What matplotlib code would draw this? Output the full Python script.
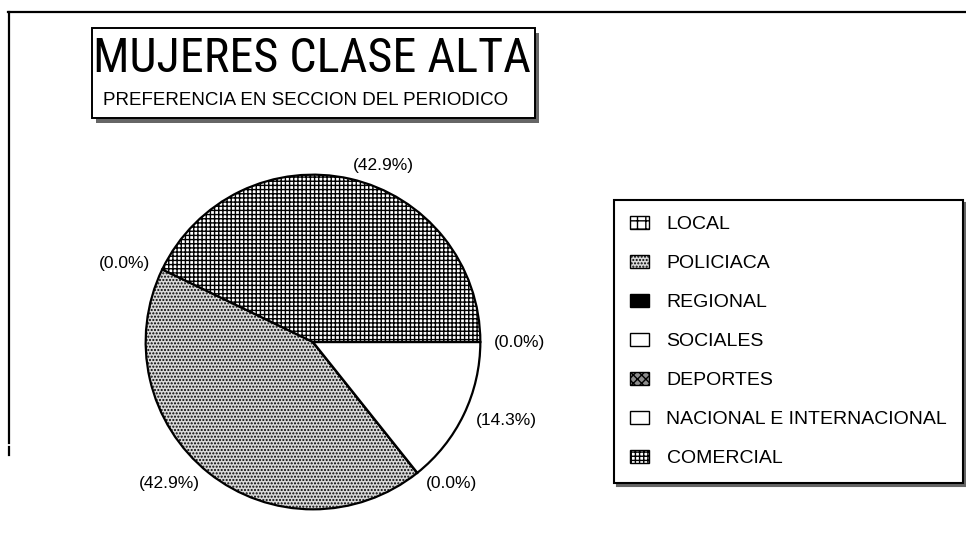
import math
import matplotlib
matplotlib.use('Agg')
import matplotlib.pyplot as plt
from matplotlib import font_manager
from matplotlib.patches import Patch, Rectangle
from matplotlib.lines import Line2D

plt.rcParams['font.family'] = ['Liberation Sans', 'DejaVu Sans']
plt.rcParams['hatch.linewidth'] = 1.0

secciones = ['LOCAL', 'POLICIACA', 'REGIONAL', 'SOCIALES', 'DEPORTES',
             'NACIONAL E INTERNACIONAL', 'COMERCIAL']
porcentajes = [0.0, 42.9, 0.0, 0.0, 0.0, 14.3, 42.9]

titulo = 'MUJERES CLASE ALTA'
subtitulo = 'PREFERENCIA EN SECCION DEL PERIODICO'

# relleno de cada seccion: (color, trama)
rellenos = [('white', '++'), ('#d9d9d9', '.....'), ('black', ''),
            ('white', ''), ('#8c8c8c', 'xxxx'), ('white', ''),
            ('white', '++++')]

W, H = 966, 552
fig = plt.figure(figsize=(W / 100, H / 100), dpi=100)


def fx(x):
    return x / W


def fy(y):
    return 1 - y / H


# una fuente estrecha para el titulo, si hay alguna
fuente_titulo = 'Liberation Sans'
for f in ['Liberation Sans Narrow', 'Roboto Condensed', 'Open Sans Condensed',
          'DejaVu Sans Condensed']:
    try:
        font_manager.findfont(f, fallback_to_default=False)
        fuente_titulo = f
        break
    except ValueError:
        pass

# marco de la pagina (arriba e izquierda)
fig.add_artist(Line2D([fx(8), fx(966)], [fy(12), fy(12)], color='black', lw=1.6,
                      transform=fig.transFigure))
fig.add_artist(Line2D([fx(9), fx(9)], [fy(12), fy(443)], color='black', lw=1.6,
                      transform=fig.transFigure))
fig.add_artist(Line2D([fx(9), fx(9)], [fy(447), fy(455)], color='black', lw=1.6,
                      transform=fig.transFigure))

# caja del titulo con sombra
fig.add_artist(Rectangle((fx(96), fy(123)), (535 - 92) / W, (118 - 28) / H,
                         transform=fig.transFigure, facecolor='#666666',
                         edgecolor='none'))
fig.add_artist(Rectangle((fx(92), fy(118)), (535 - 92) / W, (118 - 28) / H,
                         transform=fig.transFigure, facecolor='white',
                         edgecolor='black', lw=1.4))
t = fig.text(fx(312), fy(72), titulo, fontsize=35, ha='center', va='baseline',
             family=[fuente_titulo, 'Liberation Sans'])
r = fig.canvas.get_renderer()
ancho = t.get_window_extent(r).width
if ancho > 437:
    t.set_fontsize(35 * 437 / ancho)
fig.text(fx(306), fy(105), subtitulo, fontsize=13.5, ha='center', va='baseline')

# pastel
ax = fig.add_axes([fx(144), fy(511), 338 / W, 338 / H])
inicio = 360 * porcentajes[-1] / sum(porcentajes)
wedges, _ = ax.pie(porcentajes, startangle=inicio, counterclock=True,
                   colors=[c for c, h in rellenos],
                   wedgeprops=dict(edgecolor='black', linewidth=1.6))
for w, (c, h) in zip(wedges, rellenos):
    w.set_hatch(h)
ax.set_xlim(-1.01, 1.01)
ax.set_ylim(-1.01, 1.01)
ax.set_aspect('equal')
ax.axis('off')


def cerca(a, b):
    return abs((a - b + 180) % 360 - 180) < 1.0


usados = []
for i, w in enumerate(wedges):
    ang = (w.theta1 + w.theta2) / 2
    if porcentajes[i] == 0:
        # las secciones vacias que coinciden se corren al siguiente borde
        cand = [w.theta1] + [wedges[j].theta2 for j in range(i, len(wedges))]
        ang = next((a for a in cand if not any(cerca(a, u) for u in usados)), None)
        if ang is None:
            continue
    usados.append(ang)
    x = 1.08 * math.cos(math.radians(ang))
    y = 1.08 * math.sin(math.radians(ang))
    ha = 'left' if x > 0.1 else ('right' if x < -0.1 else 'center')
    ax.text(x, y, '({:.1f}%)'.format(porcentajes[i]), ha=ha, va='center',
            fontsize=12.5)

# leyenda
handles = [Patch(facecolor=c, edgecolor='black', hatch=h, linewidth=1.0)
           for c, h in rellenos]
leg = fig.legend(handles, secciones, loc='upper left',
                 bbox_to_anchor=(fx(614), fy(200)), frameon=True, fancybox=False,
                 edgecolor='black', fontsize=14, handlelength=1.0,
                 handleheight=0.7, handletextpad=0.9, labelspacing=1.1,
                 borderpad=0.8, borderaxespad=0,
                 shadow={'color': '#666666', 'alpha': 1})
leg.get_frame().set_linewidth(1.5)

fig.savefig('out.png', dpi=100, facecolor='white')
